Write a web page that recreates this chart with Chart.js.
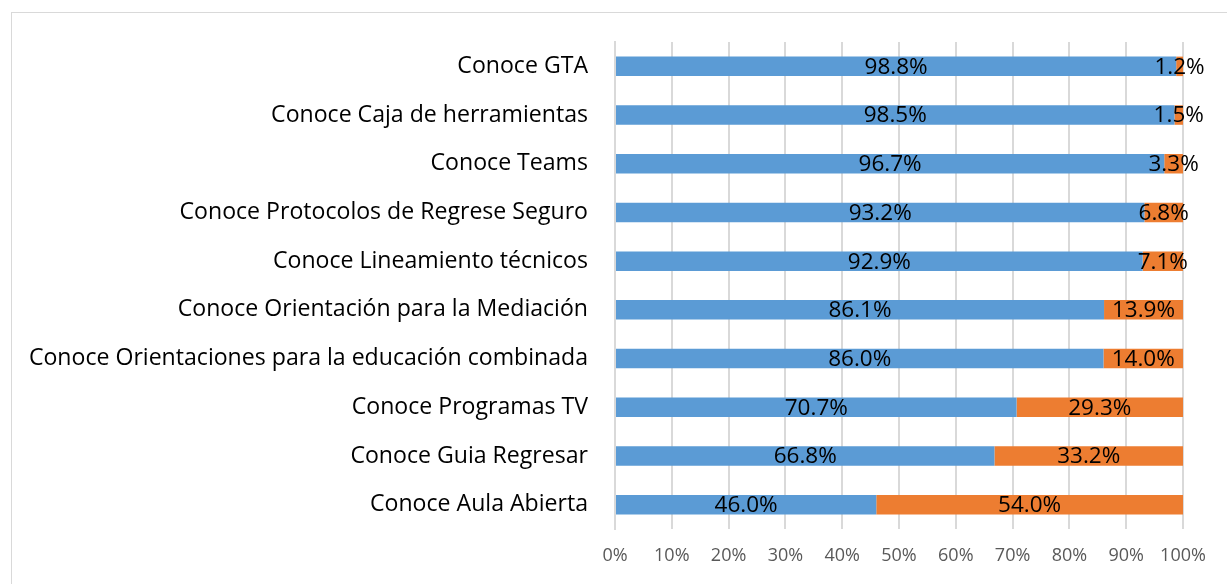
<!DOCTYPE html>
<html>
<head>
<meta charset="utf-8">
<script src="https://cdn.jsdelivr.net/npm/chart.js@4"></script>
<style>
  html, body { margin: 0; padding: 0; background: #fff; }
  #wrap { position: absolute; left: 0; top: 0; width: 1227px; height: 584px; }
  #frame { position: absolute; left: 11px; top: 12px; width: 1240px; height: 600px; border: 1px solid #d9d9d9; box-sizing: border-box; }
  canvas { position: absolute; left: 0; top: 0; }
</style>
</head>
<body>
<div id="wrap">
  <div id="frame"></div>
  <canvas id="c" width="1227" height="584"></canvas>
</div>
<script>
const categories = [
  "Conoce GTA",
  "Conoce Caja de herramientas",
  "Conoce Teams",
  "Conoce Protocolos de Regrese Seguro",
  "Conoce Lineamiento técnicos",
  "Conoce Orientación para la Mediación",
  "Conoce Orientaciones para la educación combinada",
  "Conoce Programas TV",
  "Conoce Guia Regresar",
  "Conoce Aula Abierta"
];
const siValues = [98.8, 98.5, 96.7, 93.2, 92.9, 86.1, 86.0, 70.7, 66.8, 46.0];
const noValues = [1.2, 1.5, 3.3, 6.8, 7.1, 13.9, 14.0, 29.3, 33.2, 54.0];
const xTicks = [0, 10, 20, 30, 40, 50, 60, 70, 80, 90, 100];

const FONT = "'Open Sans', 'Noto Sans', sans-serif";

const labelPlugin = {
  id: 'barLabels',
  afterDatasetsDraw(chart) {
    const ctx = chart.ctx;
    ctx.save();
    ctx.font = "22.5px " + FONT;
    ctx.fillStyle = "#000";
    ctx.textAlign = "center";
    ctx.textBaseline = "middle";
    chart.data.datasets.forEach((ds, di) => {
      const meta = chart.getDatasetMeta(di);
      meta.data.forEach((bar, i) => {
        const p = bar.getProps(['x', 'y', 'base'], true);
        const cx = (p.x + p.base) / 2;
        ctx.fillText(ds.data[i].toFixed(1) + "%", cx, p.y + 1);
      });
    });
    ctx.restore();
  }
};

new Chart(document.getElementById('c'), {
  type: 'bar',
  data: {
    labels: categories,
    datasets: [
      { label: 'Sí', data: siValues, backgroundColor: '#5B9BD5', borderWidth: 0, barPercentage: 0.4, categoryPercentage: 1 },
      { label: 'No', data: noValues, backgroundColor: '#ED7D31', borderWidth: 0, barPercentage: 0.4, categoryPercentage: 1 }
    ]
  },
  options: {
    indexAxis: 'y',
    responsive: false,
    animation: false,
    devicePixelRatio: 1,
    layout: { padding: { top: 42, right: 44, bottom: 0, left: 0 } },
    plugins: { legend: { display: false }, tooltip: { enabled: false } },
    scales: {
      x: {
        stacked: true,
        min: 0, max: 100,
        afterBuildTicks(scale) { scale.ticks = xTicks.map(v => ({ value: v })); },
        afterFit(scale) { scale.height = 55; },
        grid: { color: '#d9d9d9', lineWidth: 2, drawTicks: false, tickLength: 0 },
        border: { display: false },
        ticks: { color: '#595959', font: { family: FONT, size: 18 }, padding: 16, callback: v => v + '%' }
      },
      y: {
        stacked: true,
        afterFit(scale) { scale.width = 615; },
        grid: { display: false, drawTicks: false },
        border: { display: true, color: '#d9d9d9', width: 2 },
        ticks: { color: '#000', font: { family: FONT, size: 23.1 }, padding: 27 }
      }
    }
  },
  plugins: [labelPlugin]
});
</script>
</body>
</html>
